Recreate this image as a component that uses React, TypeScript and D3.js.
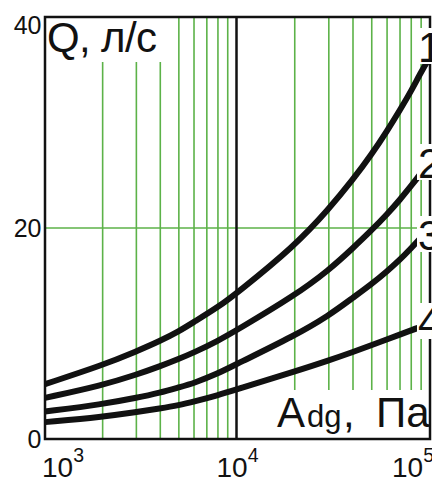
import { useEffect, useRef } from 'react'
import * as d3 from 'd3'

// pressure A_dg, Pa (x) and flow Q, l/s (y)
const pressure = [1e3, 2e3, 3e3, 4e3, 5e3, 6e3, 8e3, 1e4, 2e4, 3e4, 4e4, 5e4, 6e4, 7e4, 8e4, 9e4, 1e5]
const flow1 = [5.2, 7.0, 8.3, 9.3, 10.2, 11.1, 12.5, 13.8, 18.3, 21.8, 24.6, 27.0, 29.2, 31.2, 33.0, 34.8, 36.2]
const flow2 = [3.9, 5.1, 6.1, 6.9, 7.6, 8.2, 9.3, 10.3, 13.6, 16.0, 18.1, 19.8, 21.3, 22.7, 24.0, 25.2, 26.4]
const flow3 = [2.6, 3.3, 3.9, 4.4, 4.9, 5.3, 6.2, 7.1, 9.8, 11.7, 13.4, 14.7, 15.9, 17.0, 18.1, 19.1, 20.0]
const flow4 = [1.6, 2.1, 2.55, 2.9, 3.2, 3.55, 4.15, 4.7, 6.4, 7.45, 8.25, 8.9, 9.45, 9.9, 10.3, 10.65, 11.0]
const curveNames = ['1', '2', '3', '4']
const yTicks = [0, 20, 40]
const xTicks = [1e3, 1e4, 1e5]
const gridY = [20]

// layout
const W = 432, H = 478
const FONT = '"Liberation Sans", Arial, Helvetica, sans-serif'
const GREEN = '#5cb248'
const labelBaselines = [62, 178, 250, 337]

export default function App() {
  const svgRef = useRef<SVGSVGElement>(null)

  useEffect(() => {
    const svg = d3.select(svgRef.current)
    svg.selectAll('*').remove()

    const x = d3.scaleLog().domain([1e3, 1e4, 1e5]).range([45, 236.5, 430])
    const y = d3.scaleLinear().domain([0, 40]).range([439, 17])
    const [x0, x1] = [x(1e3), x(1e5)]
    const [yb, yt] = [y(0), y(40)]

    svg.append('rect').attr('width', W).attr('height', H).attr('fill', '#fff')

    // green minor grid (2..9 of every decade)
    const minor = x.ticks().filter(v => !xTicks.includes(v))
    svg.append('g').selectAll('line').data(minor).join('line')
      .attr('x1', d => x(d)).attr('x2', d => x(d)).attr('y1', yt).attr('y2', yb)
      .attr('stroke', GREEN).attr('stroke-width', 1.6)
    svg.append('g').selectAll('line').data(gridY).join('line')
      .attr('x1', x0).attr('x2', x1).attr('y1', d => y(d)).attr('y2', d => y(d))
      .attr('stroke', GREEN).attr('stroke-width', 1.6)

    // decade line at 10^4
    svg.append('line').attr('x1', x(1e4)).attr('x2', x(1e4)).attr('y1', yt).attr('y2', yb)
      .attr('stroke', '#111').attr('stroke-width', 2.5)

    // white backgrounds of the axis titles
    svg.append('rect').attr('x', x0).attr('y', yt).attr('width', 127).attr('height', 45).attr('fill', '#fff')
    svg.append('rect').attr('x', x(1e4) + 1.5).attr('y', 390).attr('width', x1 - x(1e4) - 1.5).attr('height', yb - 390).attr('fill', '#fff')

    // curves
    const series = [flow1, flow2, flow3, flow4]
    const line = d3.line<number>().x((_, i) => x(pressure[i])).y(d => y(d)).curve(d3.curveBasis)
    svg.append('g').selectAll('path').data(series).join('path')
      .attr('d', d => line(d)).attr('fill', 'none').attr('stroke', '#111')
      .attr('stroke-width', 6).attr('stroke-linecap', 'butt')

    // frame
    svg.append('rect').attr('x', x0).attr('y', yt).attr('width', x1 - x0).attr('height', yb - yt)
      .attr('fill', 'none').attr('stroke', '#111').attr('stroke-width', 2.5)

    // curve labels at the right edge
    const lab = svg.append('g').selectAll('g').data(curveNames).join('g')
    lab.append('rect').attr('x', 417).attr('y', (_, i) => labelBaselines[i] - 34)
      .attr('width', 20).attr('height', 36).attr('fill', '#fff')
    lab.append('text').attr('x', 418).attr('y', (_, i) => labelBaselines[i])
      .attr('font-family', FONT).attr('font-size', 42).attr('fill', '#111').text(d => d)

    // y tick labels
    svg.append('g').selectAll('text').data(yTicks).join('text')
      .attr('x', 41.5).attr('y', d => Math.max(y(d) + 9, 34))
      .attr('text-anchor', 'end').attr('font-family', FONT).attr('font-size', 25).attr('fill', '#111')
      .text(d => d)

    // x tick labels, 10 with superscript exponent
    const xl = svg.append('g').selectAll('text').data(xTicks).join('text')
      .attr('x', (d, i) => i === 0 ? 42 : i === 1 ? x(d) - 20 : 392)
      .attr('y', 477).attr('font-family', FONT).attr('font-size', 28).attr('fill', '#111')
    xl.append('tspan').text('10')
    xl.append('tspan').attr('font-size', 19.5).attr('dy', -15).text(d => Math.round(Math.log10(d)))

    // axis titles
    svg.append('text').attr('x', 47).attr('y', 52).attr('font-family', FONT).attr('font-size', 42)
      .attr('fill', '#111').attr('textLength', 110).text('Q, л/с')
    const t = svg.append('g').attr('font-family', FONT).attr('fill', '#111')
    t.append('text').attr('x', 277).attr('y', 427).attr('font-size', 42).text('A')
    t.append('text').attr('x', 307).attr('y', 427).attr('font-size', 31).text('dg')
    t.append('text').attr('x', 343).attr('y', 427).attr('font-size', 42).text(',')
    t.append('text').attr('x', 376).attr('y', 427).attr('font-size', 42).text('Па')
  }, [])

  return (
    <svg ref={svgRef} width={W} height={H}
      style={{ position: 'absolute', left: 0, top: 0, display: 'block' }} />
  )
}
